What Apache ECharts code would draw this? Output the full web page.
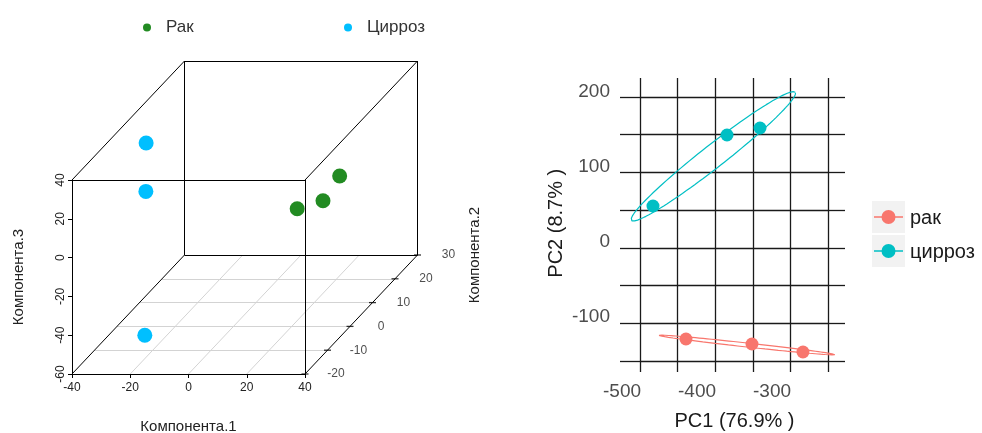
<!DOCTYPE html>
<html>
<head>
<meta charset="utf-8">
<title>PCA</title>
<script src="https://cdn.jsdelivr.net/npm/echarts@6/dist/echarts.min.js"></script>
<style>html,body{margin:0;padding:0;background:#fff}#main{width:982px;height:433px}</style>
</head>
<body>
<div id="main"></div>
<script>
// left: 3d scatter, three components
var rakComp1 = [21, 23, 18];
var rakComp2 = [20, 10, 5];
var rakComp3 = [-7, -7.5, -5.5];
var cirComp1 = [-30, -18.5, -15];
var cirComp2 = [0, -15, -20];
var cirComp3 = [34.5, 28, -40];
var comp1Ticks = [-40, -20, 0, 20, 40];
var comp2Ticks = [-20, -10, 0, 10, 20, 30];
var comp3Ticks = [-60, -40, -20, 0, 20, 40];

// right: PCA scores
var rakPC1 = [-414.7, -326.7, -258.7];
var rakPC2 = [-129.3, -136, -146.7];
var cirPC1 = [-458.7, -360, -316];
var cirPC2 = [48, 142.7, 152];

var FONT = 'Liberation Sans, Arial, sans-serif';
var X0 = comp1Ticks[0], X1 = comp1Ticks[comp1Ticks.length - 1];
var Y0 = comp2Ticks[0], Y1 = comp2Ticks[comp2Ticks.length - 1];
var Z0 = comp3Ticks[0], Z1 = comp3Ticks[comp3Ticks.length - 1];
// depth direction (component 2) in front-face units
var DX = 0.7725, DZ = 1.2268;
function proj(x, y, z) { return [x + (y - Y0) * DX, z + (y - Y0) * DZ]; }

var boxEdges = [];
[Y0, Y1].forEach(function (y) {
  [Z0, Z1].forEach(function (z) { boxEdges.push({coords: [proj(X0, y, z), proj(X1, y, z)]}); });
  [X0, X1].forEach(function (x) { boxEdges.push({coords: [proj(x, y, Z0), proj(x, y, Z1)]}); });
});
[X0, X1].forEach(function (x) {
  [Z0, Z1].forEach(function (z) { boxEdges.push({coords: [proj(x, Y0, z), proj(x, Y1, z)]}); });
});

var floorLines = [];
comp2Ticks.slice(1, -1).forEach(function (y) { floorLines.push({coords: [proj(X0, y, Z0), proj(X1, y, Z0)]}); });
comp1Ticks.slice(1, -1).forEach(function (x) { floorLines.push({coords: [proj(x, Y0, Z0), proj(x, Y1, Z0)]}); });

function pts3d(a, b, c) {
  return a.map(function (v, i) { return proj(v, b[i], c[i]); });
}

// ellipse round each group from its covariance
var ELL_K = 1.5;
function ellipse(xs, ys) {
  var n = xs.length, mx = 0, my = 0;
  for (var i = 0; i < n; i++) { mx += xs[i]; my += ys[i]; }
  mx /= n; my /= n;
  var sxx = 0, syy = 0, sxy = 0;
  for (i = 0; i < n; i++) {
    sxx += (xs[i] - mx) * (xs[i] - mx);
    syy += (ys[i] - my) * (ys[i] - my);
    sxy += (xs[i] - mx) * (ys[i] - my);
  }
  sxx /= n - 1; syy /= n - 1; sxy /= n - 1;
  var tr = sxx + syy, det = sxx * syy - sxy * sxy;
  var d = Math.sqrt(tr * tr / 4 - det);
  var l1 = tr / 2 + d, l2 = Math.max(tr / 2 - d, 0);
  var ang = Math.atan2(l1 - sxx, sxy);
  var a = ELL_K * Math.sqrt(l1), b = ELL_K * Math.sqrt(l2);
  var out = [];
  for (var k = 0; k <= 120; k++) {
    var t = k / 120 * Math.PI * 2;
    var ex = a * Math.cos(t), ey = b * Math.sin(t);
    out.push([mx + ex * Math.cos(ang) - ey * Math.sin(ang), my + ex * Math.sin(ang) + ey * Math.cos(ang)]);
  }
  return out;
}
function zip(a, b) { return a.map(function (v, i) { return [v, b[i]]; }); }

var RED = '#F8766D', CYAN = '#00BFC4', GREEN = '#228B22', SKY = '#00BFFF';
var GRIDC = '#1a1a1a';

var myChart = echarts.init(document.getElementById('main'));
var hidden = {show: false};
var option = {
  animation: false,
  backgroundColor: '#fff',
  textStyle: {fontFamily: FONT},
  legend: [
    {left: 138, top: 14, data: ['Рак'], icon: 'circle', itemWidth: 28, itemHeight: 8,
     textStyle: {fontSize: 17, color: '#333', fontFamily: FONT}},
    {left: 339, top: 14, data: ['Цирроз'], icon: 'circle', itemWidth: 28, itemHeight: 8,
     textStyle: {fontSize: 17, color: '#333', fontFamily: FONT}}
  ],
  grid: [
    {left: 72, top: 374 - (Z1 + (Y1 - Y0) * DZ - Z0) * 1.94, width: (X1 + (Y1 - Y0) * DX - X0) * 2.9125,
     height: (Z1 + (Y1 - Y0) * DZ - Z0) * 1.94, outerBoundsMode: 'none'},
    {left: 72, top: 180, width: 233, height: 194, outerBoundsMode: 'none'},
    {left: 622, top: 92, width: 225, height: 262.5, outerBoundsMode: 'none'},
    {left: 640, top: 97, width: 188, height: 264, outerBoundsMode: 'none'}
  ],
  xAxis: [
    {gridIndex: 0, type: 'value', min: X0, max: X1 + (Y1 - Y0) * DX, show: false},
    {gridIndex: 1, type: 'value', min: X0, max: X1, interval: 20,
     axisLine: {onZero: false, lineStyle: {color: '#000'}}, axisTick: {length: 4, lineStyle: {color: '#000'}},
     axisLabel: {fontSize: 12, color: '#222', margin: 8, fontFamily: FONT}, splitLine: hidden,
     name: 'Компонента.1', nameLocation: 'middle', nameGap: 45,
     nameTextStyle: {fontSize: 15, color: '#222', fontFamily: FONT}},
    {gridIndex: 2, type: 'value', min: -500, max: -200, interval: 100,
     axisLine: {show: false, onZero: false}, axisTick: hidden, splitLine: hidden,
     axisLabel: {fontSize: 19, color: '#4d4d4d', margin: 28, fontFamily: FONT,
                 formatter: function (v) { return v === -200 ? '' : v; }},
     name: 'PC1 (76.9% )', nameLocation: 'middle', nameGap: 57,
     nameTextStyle: {fontSize: 20, color: '#1a1a1a', fontFamily: FONT}},
    {gridIndex: 3, type: 'value', min: 0, max: 250, interval: 50, position: 'bottom',
     axisLine: {show: false, onZero: false}, axisLabel: hidden,
     axisTick: {length: 11, lineStyle: {color: GRIDC, width: 1.3}},
     splitLine: {lineStyle: {color: GRIDC, width: 1.3}}},
    {gridIndex: 3, type: 'value', min: 0, max: 250, interval: 50, position: 'top',
     axisLine: {show: false, onZero: false}, axisLabel: hidden, splitLine: hidden,
     axisTick: {length: 19, lineStyle: {color: GRIDC, width: 1.3}}}
  ],
  yAxis: [
    {gridIndex: 0, type: 'value', min: Z0, max: Z1 + (Y1 - Y0) * DZ, show: false},
    {gridIndex: 1, type: 'value', min: Z0, max: Z1, interval: 20,
     axisLine: {show: true, onZero: false, lineStyle: {color: '#000'}},
     axisTick: {show: true, length: 4, lineStyle: {color: '#000'}},
     axisLabel: {fontSize: 12, color: '#222', margin: 5, rotate: 90, fontFamily: FONT}, splitLine: hidden,
     name: 'Компонента.3', nameLocation: 'middle', nameGap: 46,
     nameTextStyle: {fontSize: 15, color: '#222', fontFamily: FONT}},
    {gridIndex: 2, type: 'value', min: -150, max: 200, interval: 50,
     axisLine: {show: false, onZero: false}, axisTick: hidden, splitLine: hidden,
     axisLabel: {fontSize: 19, color: '#4d4d4d', margin: 12, fontFamily: FONT,
                 formatter: function (v) { return v % 100 === 0 ? v : ''; }},
     name: 'PC2 (8.7% )', nameLocation: 'middle', nameGap: 56,
     nameTextStyle: {fontSize: 20, color: '#1a1a1a', fontFamily: FONT}},
    {gridIndex: 3, type: 'value', min: 0, max: 350, interval: 50, position: 'left',
     axisLine: {show: false, onZero: false}, axisLabel: hidden,
     axisTick: {show: true, length: 20, lineStyle: {color: GRIDC, width: 1.3}},
     splitLine: {lineStyle: {color: GRIDC, width: 1.3}}},
    {gridIndex: 3, type: 'value', min: 0, max: 350, interval: 50, position: 'right',
     axisLine: {show: false, onZero: false}, axisLabel: hidden, splitLine: hidden,
     axisTick: {show: true, length: 17, lineStyle: {color: GRIDC, width: 1.3}}}
  ],
  series: [
    {type: 'lines', coordinateSystem: 'cartesian2d', xAxisIndex: 0, yAxisIndex: 0, silent: true,
     data: floorLines, lineStyle: {color: '#d3d3d3', width: 1, opacity: 1}, z: 1},
    {type: 'lines', coordinateSystem: 'cartesian2d', xAxisIndex: 0, yAxisIndex: 0, silent: true,
     data: boxEdges, lineStyle: {color: '#000', width: 1, opacity: 1}, z: 2},
    {type: 'scatter', xAxisIndex: 0, yAxisIndex: 0, silent: true, symbol: 'rect', symbolSize: [7, 1.3],
     itemStyle: {color: '#000'},
     data: comp2Ticks.map(function (y) { return proj(X1, y, Z0); }),
     label: {show: true, position: 'inside', offset: [31, 0], color: '#222', fontSize: 12, fontFamily: FONT,
             formatter: function (p) { return comp2Ticks[p.dataIndex]; }}},
    {name: 'Рак', type: 'scatter', xAxisIndex: 0, yAxisIndex: 0, symbolSize: 15, z: 5,
     itemStyle: {color: GREEN, opacity: 1}, data: pts3d(rakComp1, rakComp2, rakComp3)},
    {name: 'Цирроз', type: 'scatter', xAxisIndex: 0, yAxisIndex: 0, symbolSize: 15, z: 5,
     itemStyle: {color: SKY, opacity: 1}, data: pts3d(cirComp1, cirComp2, cirComp3)},

    {name: 'рак', type: 'line', xAxisIndex: 2, yAxisIndex: 2, showSymbol: false, clip: false, silent: true,
     lineStyle: {color: RED, width: 1.2}, data: ellipse(rakPC1, rakPC2), z: 4},
    {name: 'цирроз', type: 'line', xAxisIndex: 2, yAxisIndex: 2, showSymbol: false, clip: false, silent: true,
     lineStyle: {color: CYAN, width: 1.2}, data: ellipse(cirPC1, cirPC2), z: 4},
    {name: 'рак', type: 'scatter', xAxisIndex: 2, yAxisIndex: 2, symbolSize: 13, z: 5,
     itemStyle: {color: RED, opacity: 1}, data: zip(rakPC1, rakPC2)},
    {name: 'цирроз', type: 'scatter', xAxisIndex: 2, yAxisIndex: 2, symbolSize: 13, z: 5,
     itemStyle: {color: CYAN, opacity: 1}, data: zip(cirPC1, cirPC2)}
  ],
  graphic: [
    {type: 'text', x: 475, y: 255, rotation: Math.PI / 2,
     style: {text: 'Компонента.2', align: 'center', verticalAlign: 'middle', fontSize: 15, fontFamily: FONT, fill: '#222'}},
    {type: 'rect', shape: {x: 872, y: 201, width: 33, height: 32}, style: {fill: '#f2f2f2'}},
    {type: 'line', shape: {x1: 874, y1: 217, x2: 903, y2: 217}, style: {stroke: RED, lineWidth: 1.5}},
    {type: 'circle', shape: {cx: 888.5, cy: 217, r: 7}, style: {fill: RED}},
    {type: 'text', x: 910, y: 218, style: {text: 'рак', verticalAlign: 'middle', fontSize: 20, fontFamily: FONT, fill: '#1a1a1a'}},
    {type: 'rect', shape: {x: 872, y: 235, width: 33, height: 32}, style: {fill: '#f2f2f2'}},
    {type: 'line', shape: {x1: 874, y1: 251, x2: 903, y2: 251}, style: {stroke: CYAN, lineWidth: 1.5}},
    {type: 'circle', shape: {cx: 888.5, cy: 251, r: 7}, style: {fill: CYAN}},
    {type: 'text', x: 910, y: 252, style: {text: 'цирроз', verticalAlign: 'middle', fontSize: 20, fontFamily: FONT, fill: '#1a1a1a'}}
  ]
};
myChart.setOption(option);
</script>
</body>
</html>
